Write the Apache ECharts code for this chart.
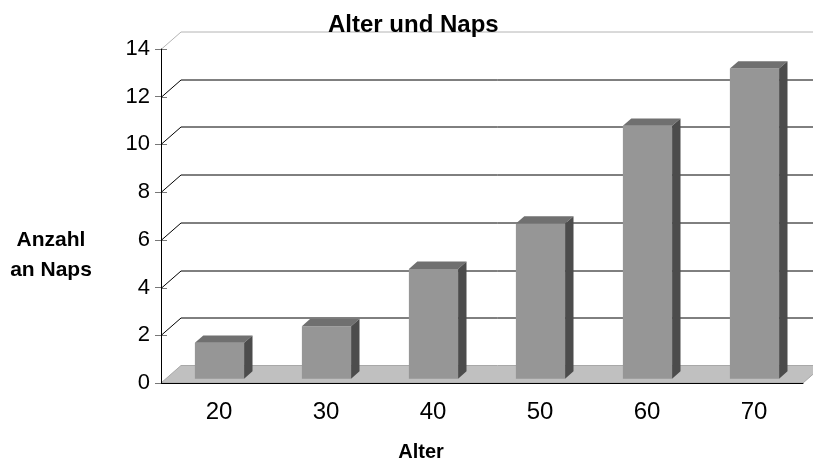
<!DOCTYPE html>
<html style="height: 100%">
<head>
<meta charset="utf-8">
<script src="https://cdn.jsdelivr.net/npm/echarts@6/dist/echarts.min.js"></script>
</head>
<body style="height: 100%; margin: 0; background: #fff">
<div id="container" style="width: 813px; height: 462px;"></div>
<script type="text/javascript">
var categories = ['20', '30', '40', '50', '60', '70'];
var naps = [1.5, 2.2, 4.6, 6.5, 10.6, 13];
var yTicks = [0, 2, 4, 6, 8, 10, 12, 14];

// pseudo 3d depth of the plot (back wall offset) and of the bars
var DX = 20, DY = -17.5;
var BAR_OFF = 0.25, BAR_DEPTH = 0.42;

var myChart = echarts.init(document.getElementById('container'));

function floorItem(params, api) {
    var cs = params.coordSys;
    var x0 = cs.x, x1 = cs.x + cs.width, y0 = cs.y + cs.height;
    return {
        type: 'polygon',
        shape: { points: [[x0, y0], [x1, y0], [x1 + DX, y0 + DY], [x0 + DX, y0 + DY]] },
        style: { fill: '#c0c0c0', stroke: '#a8a8a8', lineWidth: 1 },
        z2: 1
    };
}

function gridItem(params, api) {
    var cs = params.coordSys;
    var v = api.value(0);
    var y = Math.round(api.coord([0, v])[1]) + 0.5;
    var x0 = cs.x, x1 = cs.x + cs.width;
    var col = v === 14 ? '#b4b4b4' : '#000';
    var children = [{
        type: 'polyline',
        shape: { points: [[x0, y], [x0 + DX, y + DY], [x1 + DX + 20, y + DY]] },
        style: { stroke: col, lineWidth: 1, fill: null }
    }, {
        type: 'line',
        shape: { x1: x0, y1: y, x2: x0 + 6, y2: y },
        style: { stroke: '#777', lineWidth: 1 }
    }];
    if (v === 0) children.splice(0, 1);
    return { type: 'group', children: children };
}

function barItem(params, api) {
    var i = api.value(0);
    var base = api.coord([i, 0]);
    var top = api.coord([i, api.value(1)]);
    var w = api.size([1, 0])[0] * 0.46;
    var ox = DX * BAR_OFF, oy = DY * BAR_OFF;
    var dx = DX * BAR_DEPTH, dy = DY * BAR_DEPTH;
    var l = base[0] - w / 2 + ox, r = base[0] + w / 2 + ox;
    var b = base[1] + oy, t = top[1] + oy;
    return {
        type: 'group',
        children: [{
            type: 'rect',
            shape: { x: l, y: t, width: w, height: b - t },
            style: { fill: '#969696' }
        }, {
            type: 'polygon',
            shape: { points: [[l, t], [r, t], [r + dx, t + dy], [l + dx, t + dy]] },
            style: { fill: '#707070' }
        }, {
            type: 'polygon',
            shape: { points: [[r, t], [r + dx, t + dy], [r + dx, b + dy], [r, b]] },
            style: { fill: '#4c4c4c' }
        }]
    };
}

var boldFont = { fontFamily: 'Liberation Sans', fontWeight: 'bold', fill: '#000' };

var option = {
    animation: false,
    textStyle: { fontFamily: 'Liberation Sans, Arial, sans-serif' },
    graphic: [{
        type: 'text',
        left: 328,
        top: 13,
        z: 10,
        style: Object.assign({ text: 'Alter und Naps', fontSize: 24 }, boldFont)
    }, {
        type: 'text',
        x: 51,
        y: 255,
        z: 10,
        style: Object.assign({
            text: 'Anzahl\nan Naps', fontSize: 21, lineHeight: 30,
            align: 'center', verticalAlign: 'middle'
        }, boldFont)
    }, {
        type: 'text',
        x: 421,
        y: 452,
        z: 10,
        style: Object.assign({
            text: 'Alter', fontSize: 20, align: 'center', verticalAlign: 'middle'
        }, boldFont)
    }],
    grid: { left: 161, right: 10, top: 49, bottom: 79 },
    xAxis: {
        type: 'category',
        data: categories,
        axisLine: { lineStyle: { color: '#000', width: 1 } },
        axisTick: { show: false },
        axisLabel: { color: '#000', fontSize: 24, margin: 17, padding: [0, 0, 0, 9], fontFamily: 'Liberation Sans' },
        z: 5
    },
    yAxis: {
        type: 'value',
        min: 0,
        max: 14,
        interval: 2,
        axisLine: { show: true, lineStyle: { color: '#000' } },
        axisTick: { show: true, length: 6, lineStyle: { color: '#777' } },
        axisLabel: { color: '#000', fontSize: 22, margin: 11, fontFamily: 'Liberation Sans' },
        splitLine: { show: false },
        z: 5
    },
    series: [{
        type: 'custom',
        renderItem: floorItem,
        data: [[0, 0]],
        z: 2,
        silent: true
    }, {
        type: 'custom',
        renderItem: gridItem,
        data: yTicks.map(function (v) { return [v]; }),
        encode: { y: 0 },
        z: 1,
        silent: true
    }, {
        type: 'custom',
        renderItem: barItem,
        data: naps.map(function (v, i) { return [i, v]; }),
        encode: { x: 0, y: 1 },
        z: 3
    }]
};

myChart.setOption(option);
</script>
</body>
</html>
